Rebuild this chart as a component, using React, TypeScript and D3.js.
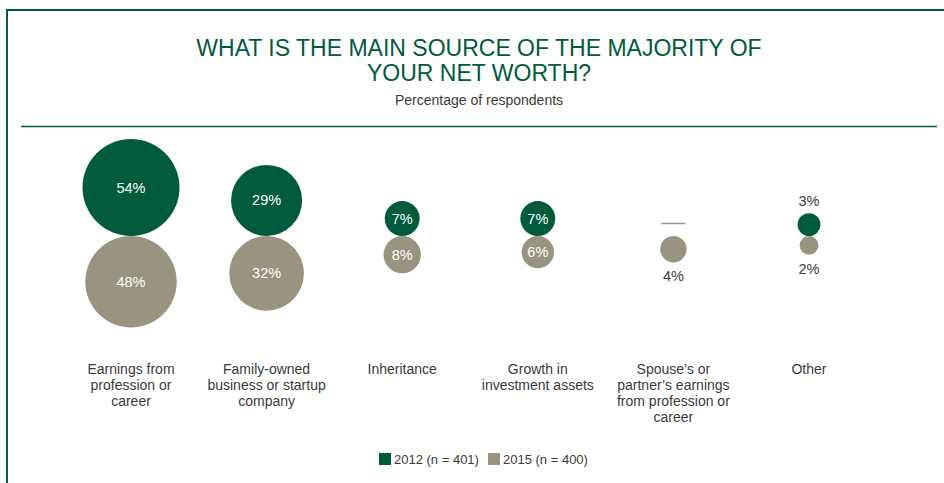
import React from "react";
import * as d3 from "d3";

const categories: string[][] = [
  ["Earnings from", "profession or", "career"],
  ["Family-owned", "business or startup", "company"],
  ["Inheritance"],
  ["Growth in", "investment assets"],
  ["Spouse\u2019s or", "partner\u2019s earnings", "from profession or", "career"],
  ["Other"],
];
const values2012: (number | null)[] = [54, 29, 7, 7, null, 3];
const values2015: number[] = [48, 32, 8, 6, 4, 2];
const seriesLabels = ["2012 (n = 401)", "2015 (n = 400)"];

const W = 944;
const H = 483;
const GREEN = "#005a3c";
const GREY = "#99947f";
const TEXT = "#3a3a3a";
const FONT = "'Liberation Sans', Arial, sans-serif";

export default function App() {
  const x = d3
    .scalePoint<number>()
    .domain(d3.range(categories.length))
    .range([131, 809]);
  const r = d3.scaleSqrt().domain([0, 54]).range([0, 48.5]);
  const baseY = 236;
  const insideMin = 6;

  return (
    <svg
      width={W}
      height={H}
      style={{ position: "absolute", left: 0, top: 0, background: "#fff" }}
      fontFamily={FONT}
    >
      {/* frame */}
      <line x1={7} y1={10} x2={7} y2={H} stroke={GREEN} strokeWidth={2} />
      <line x1={6} y1={10} x2={W} y2={10} stroke={GREEN} strokeWidth={2} />
      <line x1={21} y1={126.5} x2={937} y2={126.5} stroke={GREEN} strokeWidth={1.6} />

      {/* title */}
      <text x={479} y={56} textAnchor="middle" fill={GREEN} fontSize={23}>
        WHAT IS THE MAIN SOURCE OF THE MAJORITY OF
      </text>
      <text x={479} y={81} textAnchor="middle" fill={GREEN} fontSize={23}>
        YOUR NET WORTH?
      </text>
      <text x={479} y={105} textAnchor="middle" fill={TEXT} fontSize={14}>
        Percentage of respondents
      </text>

      {categories.map((lines, i) => {
        const cx = x(i)!;
        const v1 = values2012[i];
        const v2 = values2015[i];
        const r1 = v1 != null ? r(v1) : 0;
        const r2 = r(v2);
        const cy1 = baseY - r1;
        const cy2 = baseY + r2;
        return (
          <g key={i}>
            {v1 != null ? (
              <>
                <circle cx={cx} cy={cy1} r={r1} fill={GREEN} />
                {v1 >= insideMin ? (
                  <text x={cx} y={cy1 + 5} textAnchor="middle" fill="#fff" fontSize={14.5}>
                    {v1}%
                  </text>
                ) : (
                  <text x={cx} y={cy1 - r1 - 7} textAnchor="middle" fill={TEXT} fontSize={14.5}>
                    {v1}%
                  </text>
                )}
              </>
            ) : (
              <line x1={cx - 12} x2={cx + 12} y1={223.5} y2={223.5} stroke={GREY} strokeWidth={1.5} />
            )}
            <circle cx={cx} cy={cy2} r={r2} fill={GREY} />
            {v2 >= insideMin ? (
              <text x={cx} y={cy2 + 5} textAnchor="middle" fill="#fff" fontSize={14.5}>
                {v2}%
              </text>
            ) : (
              <text x={cx} y={cy2 + r2 + 19} textAnchor="middle" fill={TEXT} fontSize={14.5}>
                {v2}%
              </text>
            )}
            <text textAnchor="middle" fill={TEXT} fontSize={14}>
              {lines.map((l, j) => (
                <tspan key={j} x={cx} y={374 + j * 16}>
                  {l}
                </tspan>
              ))}
            </text>
          </g>
        );
      })}

      {/* legend */}
      <rect x={379} y={453} width={12} height={12} fill={GREEN} />
      <text x={394} y={464} fill={TEXT} fontSize={13}>
        {seriesLabels[0]}
      </text>
      <rect x={488} y={453} width={12} height={12} fill={GREY} />
      <text x={503} y={464} fill={TEXT} fontSize={13}>
        {seriesLabels[1]}
      </text>
    </svg>
  );
}
